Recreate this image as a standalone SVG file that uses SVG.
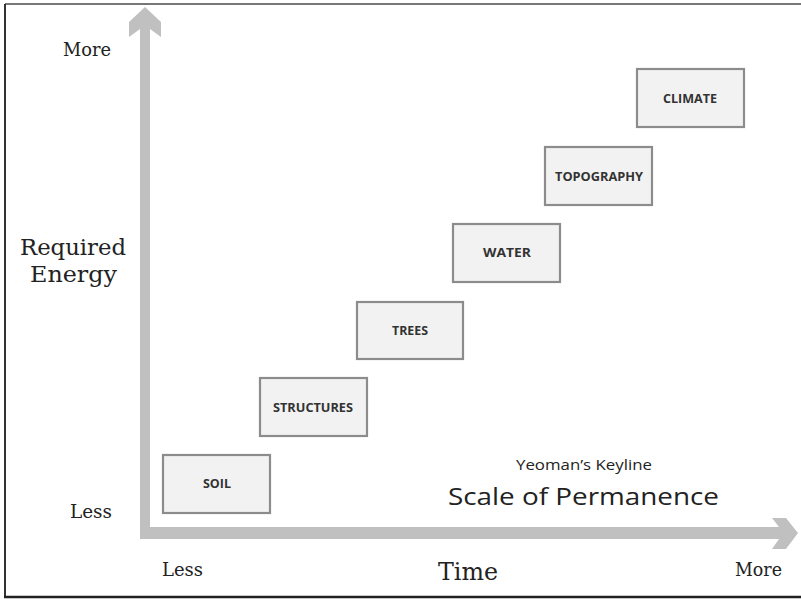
<svg xmlns="http://www.w3.org/2000/svg" width="801" height="599" viewBox="0 0 801 599">
<style>
.box{fill:#f2f2f2;stroke:#8c8c8c;stroke-width:2.2}
.bl{font-family:"Open Sans","Liberation Sans",sans-serif;font-weight:bold;font-size:12px;fill:#333;text-anchor:middle}
.sr{font-family:"DejaVu Serif","Liberation Serif",serif;fill:#222}
.ss{font-family:"Open Sans","Liberation Sans",sans-serif;fill:#222}
</style>
<rect x="0" y="0" width="801" height="599" fill="#fff"/>
<g id="frame" fill="none">
<line x1="5" y1="4" x2="801" y2="4" stroke="#777" stroke-width="2"/>
<line x1="5" y1="4" x2="5" y2="597" stroke="#333" stroke-width="2"/>
<line x1="4" y1="597" x2="801" y2="597" stroke="#222" stroke-width="2.5"/>
</g>
<g id="axes">
<path d="M140,539 L140,29 L129,37 L129,22 L145,7 L161,22 L161,37 L150,29 L150,527 L779,527 L772,518 L786,518 L798,533 L786,549 L772,549 L779,539 Z" fill="#c0c0c0"/>
</g>
<g id="connectors"></g>
<g id="soil"><rect class="box" x="163" y="455" width="107" height="58"/><text class="bl" x="217" y="488" textLength="28" lengthAdjust="spacingAndGlyphs">SOIL</text></g>
<g id="structures"><rect class="box" x="260" y="378" width="107" height="58"/><text class="bl" x="313" y="412" textLength="80" lengthAdjust="spacingAndGlyphs">STRUCTURES</text></g>
<g id="trees"><rect class="box" x="357" y="302" width="106" height="57"/><text class="bl" x="410" y="335" textLength="36" lengthAdjust="spacingAndGlyphs">TREES</text></g>
<g id="water"><rect class="box" x="453" y="224" width="107" height="58"/><text class="bl" x="507" y="257" textLength="48" lengthAdjust="spacingAndGlyphs">WATER</text></g>
<g id="topography"><rect class="box" x="545" y="147" width="107" height="58"/><text class="bl" x="599" y="181" textLength="88" lengthAdjust="spacingAndGlyphs">TOPOGRAPHY</text></g>
<g id="climate"><rect class="box" x="637" y="69" width="107" height="58"/><text class="bl" x="690" y="103" textLength="54" lengthAdjust="spacingAndGlyphs">CLIMATE</text></g>
<g id="labels">
<text class="sr" x="63" y="56" font-size="18" textLength="48" lengthAdjust="spacingAndGlyphs">More</text>
<text class="sr" x="20" y="255" font-size="23" textLength="106" lengthAdjust="spacingAndGlyphs">Required</text>
<text class="sr" x="30" y="282" font-size="23" textLength="87" lengthAdjust="spacingAndGlyphs">Energy</text>
<text class="sr" x="70" y="518" font-size="18" textLength="42" lengthAdjust="spacingAndGlyphs">Less</text>
<text class="sr" x="162" y="576" font-size="18" textLength="41" lengthAdjust="spacingAndGlyphs">Less</text>
<text class="sr" x="438" y="580" font-size="24" textLength="60" lengthAdjust="spacingAndGlyphs">Time</text>
<text class="sr" x="735" y="576" font-size="18" textLength="47" lengthAdjust="spacingAndGlyphs">More</text>
<text class="ss" x="516" y="470" font-size="15" textLength="136" lengthAdjust="spacingAndGlyphs">Yeoman’s Keyline</text>
<text class="ss" x="448" y="505" font-size="24" textLength="271" lengthAdjust="spacingAndGlyphs">Scale of Permanence</text>
</g>
</svg>
